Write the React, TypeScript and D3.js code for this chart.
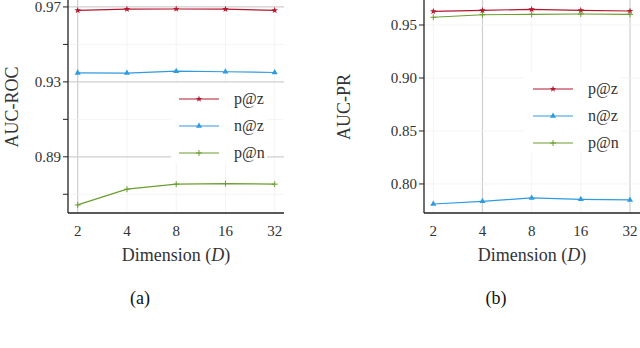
import * as d3 from "d3";

const dims = [2, 4, 8, 16, 32];
const seriesNames = ["p@z", "n@z", "p@n"];
const seriesColors = ["#b5172e", "#2f9be0", "#6b9e2f"];

// AUC-ROC (a)
const rocPZ = [0.9682, 0.9688, 0.9689, 0.9688, 0.9682];
const rocNZ = [0.9348, 0.9347, 0.9357, 0.9354, 0.935];
const rocPN = [0.8643, 0.8727, 0.8754, 0.8757, 0.8754];
const rocTicks = [0.97, 0.93, 0.89];
const rocMinor = [0.95, 0.91, 0.87];

// AUC-PR (b)
const prPZ = [0.9629, 0.9639, 0.9648, 0.9639, 0.9632];
const prNZ = [0.7811, 0.7836, 0.7868, 0.7855, 0.7849];
const prPN = [0.9573, 0.9597, 0.9601, 0.9604, 0.9601];
const prTicks = [0.95, 0.9, 0.85, 0.8];

const FONT = "Liberation Serif, DejaVu Serif, serif";

type PanelProps = {
  axisX: number;
  right: number;
  xRange: [number, number];
  yDomain: [number, number];
  ticks: number[];
  minor: number[];
  fmt: string;
  series: number[][];
  yLabel: string;
  yLabelX: number;
  strongV: number[];
  strongH: boolean;
  legendX: number;
  legendY: number;
  caption: string;
};

function Marker({ i, x, y, c }: { i: number; x: number; y: number; c: string }) {
  if (i === 0) {
    const p = d3.symbol(d3.symbolStar, 14)();
    return <path d={p || ""} transform={`translate(${x},${y})`} fill={c} />;
  }
  if (i === 1) {
    const p = d3.symbol(d3.symbolTriangle, 16)();
    return <path d={p || ""} transform={`translate(${x},${y})`} fill={c} />;
  }
  return (
    <g stroke={c} strokeWidth={1}>
      <line x1={x - 3} x2={x + 3} y1={y} y2={y} />
      <line x1={x} x2={x} y1={y - 3} y2={y + 3} />
    </g>
  );
}

function Panel(p: PanelProps) {
  const top = 0;
  const bottom = 213;
  const x = d3.scaleLog().base(2).domain([2, 32]).range(p.xRange);
  const y = d3.scaleLinear().domain(p.yDomain).range([bottom, top]);
  const f = d3.format(p.fmt);
  const line = d3
    .line<number>()
    .x((_, i) => x(dims[i]))
    .y((d) => y(d));
  const midX = (p.axisX + p.right) / 2;

  return (
    <g>
      {/* grid */}
      {dims.map((d) => (
        <line
          key={"v" + d}
          x1={x(d)}
          x2={x(d)}
          y1={top}
          y2={bottom}
          stroke={p.strongV.includes(d) ? "#cfcfcf" : "#f1f1f1"}
          strokeWidth={p.strongV.includes(d) ? 1.2 : 0.8}
        />
      ))}
      {[...p.ticks, ...p.minor].map((t) => (
        <line
          key={"h" + t}
          x1={p.axisX}
          x2={p.right}
          y1={y(t)}
          y2={y(t)}
          stroke={p.strongH && p.ticks.includes(t) ? "#cfcfcf" : "#f1f1f1"}
          strokeWidth={p.strongH && p.ticks.includes(t) ? 1.2 : 0.8}
        />
      ))}

      {/* series */}
      {p.series.map((s, i) => (
        <g key={"s" + i}>
          <path d={line(s) || ""} fill="none" stroke={seriesColors[i]} strokeWidth={1.2} />
          {s.map((v, j) => (
            <Marker key={j} i={i} x={x(dims[j])} y={y(v)} c={seriesColors[i]} />
          ))}
        </g>
      ))}

      {/* legend */}
      <rect x={p.legendX - 8} y={p.legendY - 16} width={96} height={80} fill="#fff" />
      {seriesNames.map((n, i) => {
        const ly = p.legendY + i * 27;
        return (
          <g key={n}>
            <line x1={p.legendX} x2={p.legendX + 40} y1={ly} y2={ly} stroke={seriesColors[i]} strokeWidth={1.2} />
            <Marker i={i} x={p.legendX + 20} y={ly} c={seriesColors[i]} />
            <text x={p.legendX + 55} y={ly + 5} fontSize={16} fill="#333">
              {n}
            </text>
          </g>
        );
      })}

      {/* axes */}
      <line x1={p.axisX} x2={p.axisX} y1={top} y2={bottom} stroke="#222" strokeWidth={1.3} />
      <line x1={p.axisX} x2={p.right} y1={bottom} y2={bottom} stroke="#222" strokeWidth={1.3} />
      {[...p.ticks, ...p.minor].map((t) => (
        <line key={"t" + t} x1={p.axisX - 5} x2={p.axisX} y1={y(t)} y2={y(t)} stroke="#222" strokeWidth={1} />
      ))}
      {p.ticks.map((t) => (
        <text key={"l" + t} x={p.axisX - 7} y={y(t) + 5} fontSize={15} textAnchor="end" fill="#333">
          {f(t)}
        </text>
      ))}
      {dims.map((d) => (
        <text key={"xl" + d} x={x(d)} y={236} fontSize={15} textAnchor="middle" fill="#333">
          {d}
        </text>
      ))}
      <text x={midX} y={261} fontSize={18} textAnchor="middle" fill="#333">
        Dimension (<tspan fontStyle="italic">D</tspan>)
      </text>
      <text
        transform={`translate(${p.yLabelX},107) rotate(-90)`}
        fontSize={18}
        textAnchor="middle"
        fill="#333"
      >
        {p.yLabel}
      </text>
      <text x={midX - 36} y={304} fontSize={18} textAnchor="middle" fill="#111">
        {p.caption}
      </text>
    </g>
  );
}

export default function App() {
  return (
    <svg
      width={640}
      height={348}
      style={{ position: "absolute", left: 0, top: 0, background: "#fff", fontFamily: FONT }}
    >
      <Panel
        axisX={68}
        right={284}
        xRange={[77.7, 274.7]}
        yDomain={[0.86, 0.9737]}
        ticks={rocTicks}
        minor={rocMinor}
        fmt=".2f"
        series={[rocPZ, rocNZ, rocPN]}
        yLabel="AUC-ROC"
        yLabelX={18}
        strongV={[2]}
        strongH={true}
        legendX={179}
        legendY={99}
        caption="(a)"
      />
      <Panel
        axisX={424}
        right={640}
        xRange={[433.3, 630]}
        yDomain={[0.7726, 0.9736]}
        ticks={prTicks}
        minor={[]}
        fmt=".2f"
        series={[prPZ, prNZ, prPN]}
        yLabel="AUC-PR"
        yLabelX={350}
        strongV={[4, 32]}
        strongH={false}
        legendX={533}
        legendY={89}
        caption="(b)"
      />
    </svg>
  );
}
